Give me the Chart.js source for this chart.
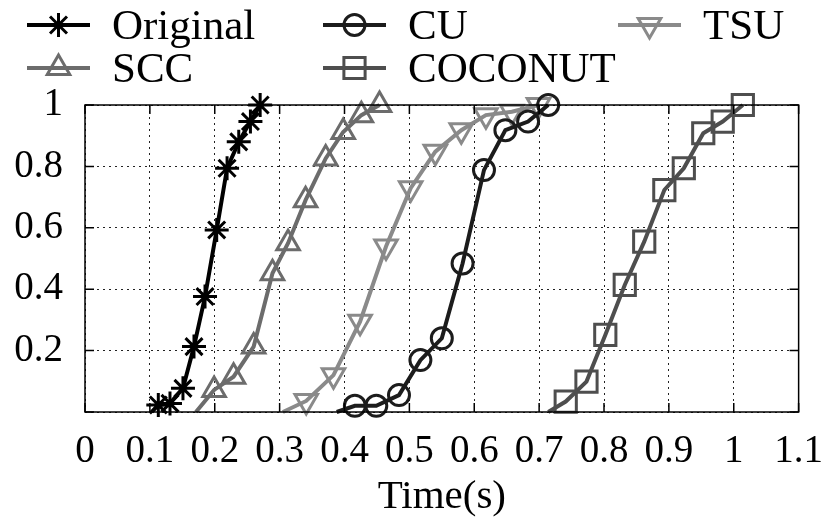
<!DOCTYPE html>
<html>
<head>
<meta charset="utf-8">
<title>Time CDF</title>
<script src="https://cdn.jsdelivr.net/npm/chart.js@4/dist/chart.umd.min.js"></script>
<style>
    html, body { margin: 0; padding: 0; background: #fff; }
    #wrap { width: 839px; height: 525px; }
</style>
</head>
<body>
<div id="wrap"><canvas id="cdfChart" width="839" height="525"></canvas></div>
<script>
// CDF of completion time per method (first point of each curve is where the line leaves y = 0)
const originalTime = [0.103, 0.113, 0.131, 0.151, 0.168, 0.185, 0.203, 0.219, 0.237, 0.255, 0.270];
const originalCdf  = [0, 0.023, 0.028, 0.077, 0.213, 0.376, 0.593, 0.794, 0.880, 0.946, 1.0];

const sccTime = [0.171, 0.199, 0.229, 0.260, 0.289, 0.313, 0.340, 0.371, 0.398, 0.426, 0.454];
const sccCdf  = [0, 0.072, 0.115, 0.213, 0.452, 0.550, 0.690, 0.826, 0.912, 0.967, 1.0];

const cuTime = [0.388, 0.416, 0.449, 0.484, 0.517, 0.550, 0.582, 0.615, 0.648, 0.683, 0.714];
const cuCdf  = [0, 0.02, 0.02, 0.055, 0.169, 0.240, 0.484, 0.788, 0.918, 0.946, 1.0];

const coconutTime = [0.714, 0.741, 0.773, 0.802, 0.832, 0.862, 0.893, 0.923, 0.953, 0.983, 1.014];
const coconutCdf  = [0, 0.034, 0.099, 0.251, 0.414, 0.555, 0.723, 0.794, 0.908, 0.946, 1.0];

const tsuTime = [0.305, 0.341, 0.383, 0.424, 0.464, 0.502, 0.540, 0.580, 0.618, 0.658, 0.699];
const tsuCdf  = [0, 0.036, 0.120, 0.294, 0.539, 0.729, 0.848, 0.918, 0.967, 0.978, 1.0];

const xTicks = [0, 0.1, 0.2, 0.3, 0.4, 0.5, 0.6, 0.7, 0.8, 0.9, 1, 1.1];
const yTicks = [0, 0.2, 0.4, 0.6, 0.8, 1];

const SERIF = "'Liberation Serif', 'DejaVu Serif', serif";

function toPoints(xs, ys) {
    return xs.map((x, i) => ({ x: x, y: ys[i] }));
}

function makeSeries(label, xs, ys, color, style, radius, rotation) {
    return {
        label: label,
        data: toPoints(xs, ys),
        borderColor: color,
        borderWidth: 4,
        pointBorderColor: color,
        pointBackgroundColor: 'rgba(0,0,0,0)',
        pointBorderWidth: 3,
        pointStyle: style,
        pointRotation: rotation || 0,
        // no marker where the curve starts on the axis
        pointRadius: ctx => ctx.dataIndex === 0 ? 0 : radius,
        pointHoverRadius: ctx => ctx.dataIndex === 0 ? 0 : radius,
        legendRadius: radius,
        tension: 0,
        clip: false
    };
}

const datasets = [
    makeSeries('Original', originalTime, originalCdf, '#000000', 'star', 12),
    makeSeries('SCC', sccTime, sccCdf, '#6c6c6c', 'triangle', 13),
    makeSeries('CU', cuTime, cuCdf, '#1c1c1c', 'circle', 10.5),
    makeSeries('COCONUT', coconutTime, coconutCdf, '#4e4e4e', 'rect', 15),
    makeSeries('TSU', tsuTime, tsuCdf, '#8a8a8a', 'triangle', 13, 180)
];

// legend slots: [column, row]
const legendSlots = { 'Original': [0, 0], 'CU': [1, 0], 'TSU': [2, 0], 'SCC': [0, 1], 'COCONUT': [1, 1] };

function strokeMarker(ctx, ds, x, y) {
    const opts = {
        pointStyle: ds.pointStyle,
        radius: ds.legendRadius,
        rotation: ds.pointRotation,
        borderWidth: ds.pointBorderWidth
    };
    ctx.save();
    ctx.strokeStyle = ds.pointBorderColor;
    ctx.fillStyle = 'rgba(0,0,0,0)';
    ctx.lineWidth = ds.pointBorderWidth;
    Chart.helpers.drawPoint(ctx, opts, x, y);
    ctx.restore();
}

const framePlugin = {
    id: 'frame',
    afterDraw(chart) {
        const ctx = chart.ctx;
        const a = chart.chartArea;
        const xs = chart.scales.x;
        const ys = chart.scales.y;
        const tick = 9;
        ctx.save();
        ctx.strokeStyle = '#000';
        ctx.lineWidth = 1.5;
        ctx.setLineDash([]);
        ctx.strokeRect(a.left, a.top, a.right - a.left, a.bottom - a.top);
        ctx.beginPath();
        xs.ticks.forEach(t => {
            const px = xs.getPixelForValue(t.value);
            ctx.moveTo(px, a.bottom); ctx.lineTo(px, a.bottom - tick);
            ctx.moveTo(px, a.top); ctx.lineTo(px, a.top + tick);
        });
        ys.ticks.forEach(t => {
            const py = ys.getPixelForValue(t.value);
            ctx.moveTo(a.left, py); ctx.lineTo(a.left + tick, py);
            ctx.moveTo(a.right, py); ctx.lineTo(a.right - tick, py);
        });
        ctx.stroke();
        ctx.restore();
    }
};

const legendPlugin = {
    id: 'gridLegend',
    afterDraw(chart) {
        const ctx = chart.ctx;
        const colX = [27, 323, 618];
        const rowY = [25, 68];
        const lineLen = 63;
        chart.data.datasets.forEach(ds => {
            const slot = legendSlots[ds.label];
            const x0 = colX[slot[0]];
            const y = rowY[slot[1]];
            ctx.save();
            ctx.strokeStyle = ds.borderColor;
            ctx.lineWidth = ds.borderWidth;
            ctx.beginPath();
            ctx.moveTo(x0, y);
            ctx.lineTo(x0 + lineLen, y);
            ctx.stroke();
            ctx.restore();
            strokeMarker(ctx, ds, x0 + lineLen / 2, y);
            ctx.save();
            ctx.fillStyle = '#000';
            ctx.font = '43px ' + SERIF;
            ctx.textBaseline = 'middle';
            ctx.textAlign = 'left';
            ctx.fillText(ds.label, x0 + 85, y + 3);
            ctx.restore();
        });
    }
};

new Chart(document.getElementById('cdfChart'), {
    type: 'line',
    data: { datasets: datasets },
    options: {
        responsive: false,
        animation: false,
        events: [],
        layout: { padding: { top: 105, right: 27, left: 0, bottom: 0 } },
        plugins: {
            legend: { display: false },
            tooltip: { enabled: false }
        },
        scales: {
            x: {
                type: 'linear',
                min: xTicks[0],
                max: xTicks[xTicks.length - 1],
                afterBuildTicks: scale => { scale.ticks = xTicks.map(v => ({ value: v })); },
                afterFit: scale => { scale.height = 113; },
                grid: { color: '#222', lineWidth: 1, drawTicks: false },
                border: { display: false, dash: [2, 4] },
                ticks: {
                    padding: 16,
                    color: '#000',
                    font: { family: SERIF, size: 39 },
                    callback: v => String(Number(v.toFixed(1)))
                },
                title: {
                    display: true,
                    text: 'Time(s)',
                    color: '#000',
                    font: { family: SERIF, size: 41 },
                    padding: { top: 0, bottom: 3 }
                }
            },
            y: {
                type: 'linear',
                min: yTicks[0],
                max: yTicks[yTicks.length - 1],
                afterBuildTicks: scale => { scale.ticks = yTicks.map(v => ({ value: v })); },
                afterFit: scale => { scale.width = 85; },
                grid: { color: '#222', lineWidth: 1, drawTicks: false },
                border: { display: false, dash: [2, 4] },
                ticks: {
                    padding: 22,
                    color: '#000',
                    font: { family: SERIF, size: 39 },
                    callback: v => v === 0 ? '' : String(Number(v.toFixed(1)))
                }
            }
        }
    },
    plugins: [framePlugin, legendPlugin]
});
</script>
</body>
</html>
